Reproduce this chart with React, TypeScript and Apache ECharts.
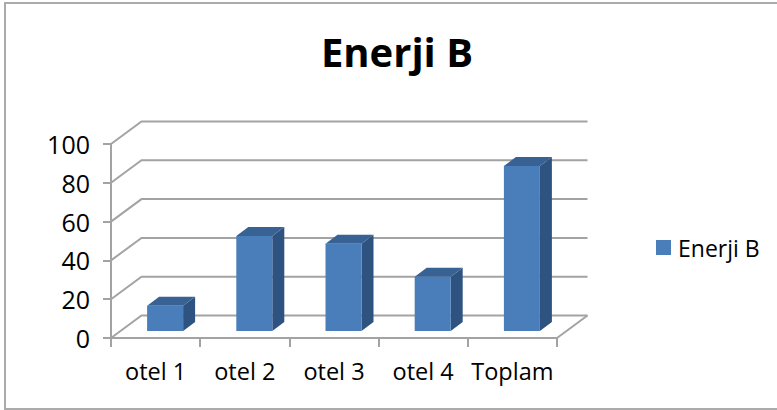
import React, { useEffect, useRef } from "react";
import * as echarts from "echarts";

const categories = ["otel 1", "otel 2", "otel 3", "otel 4", "Toplam"];
const seriesName = "Enerji B";
const values = [13, 49, 45, 28, 85];
const yTicks = [0, 20, 40, 60, 80, 100];

const GREY = "#a3a3a3";
const FONT = "'Open Sans', sans-serif";
const WALL_DX = 30.5;
const WALL_DY = 22.5;

export default function App() {
  const ref = useRef<HTMLDivElement>(null);
  useEffect(() => {
    document.body.style.margin = "0";
    const chart = echarts.init(ref.current!, null, { renderer: "svg" });
    chart.setOption({
      animation: false,
      backgroundColor: "#fff",
      title: {
        text: seriesName,
        left: 392,
        top: 26,
        textAlign: "center",
        textStyle: { fontFamily: FONT, fontSize: 40, fontWeight: "bold", color: "#000" },
      },
      legend: {
        data: [seriesName],
        left: 651,
        top: 231,
        icon: "rect",
        itemWidth: 15,
        itemHeight: 15,
        itemGap: 8,
        textStyle: { fontFamily: FONT, fontSize: 23, color: "#000", padding: [0, 0, 0, 2] },
      },
      grid: { left: 111, top: 144, width: 446, height: 194 },
      xAxis: {
        type: "category",
        data: categories,
        axisLine: { lineStyle: { color: GREY, width: 2 } },
        axisTick: { show: true, length: 9, lineStyle: { color: GREY, width: 2 } },
        axisLabel: { fontFamily: FONT, fontSize: 23.5, color: "#000", margin: 21, interval: 0 },
      },
      yAxis: {
        type: "value",
        min: 0,
        max: 100,
        interval: 20,
        splitLine: { show: false },
        axisLine: { show: true, lineStyle: { color: GREY, width: 2 } },
        axisTick: { show: true, length: 8, lineStyle: { color: GREY, width: 2 } },
        axisLabel: { fontFamily: FONT, fontSize: 25, color: "#000", margin: 21 },
      },
      series: [
        {
          type: "custom",
          name: "walls",
          silent: true,
          z: 1,
          data: yTicks.map((v) => [0, v]),
          renderItem: (params: any, api: any) => {
            const cs = params.coordSys;
            const y = api.coord([0, api.value(1)])[1];
            const style = { stroke: GREY, lineWidth: 2, fill: "none" };
            const children: any[] = [
              {
                type: "polyline",
                shape: {
                  points: [
                    [cs.x, y],
                    [cs.x + WALL_DX, y - WALL_DY],
                    [cs.x + cs.width + WALL_DX, y - WALL_DY],
                  ],
                },
                style,
              },
            ];
            if (api.value(1) === 0) {
              children.push({
                type: "line",
                shape: {
                  x1: cs.x + cs.width,
                  y1: y,
                  x2: cs.x + cs.width + WALL_DX,
                  y2: y - WALL_DY,
                },
                style,
              });
            }
            return { type: "group", children };
          },
        },
        {
          type: "custom",
          name: seriesName,
          z: 3,
          itemStyle: { color: "#4a7ebb" },
          data: values.map((v, i) => [i, v]),
          renderItem: (_: any, api: any) => {
            const i = api.value(0);
            const [cx, top0] = api.coord([i, api.value(1)]);
            const base0 = api.coord([i, 0])[1];
            const w = 36;
            const dx = 12;
            const dy = 9;
            const l = cx + 9.5 - w / 2;
            const r = l + w;
            const top = top0 - 7;
            const base = base0 - 7;
            return {
              type: "group",
              children: [
                {
                  type: "polygon",
                  shape: { points: [[r, top], [r + dx, top - dy], [r + dx, base - dy], [r, base]] },
                  style: { fill: "#2f5380" },
                },
                {
                  type: "polygon",
                  shape: { points: [[l, top], [l + dx, top - dy], [r + dx, top - dy], [r, top]] },
                  style: { fill: "#386293" },
                },
                {
                  type: "rect",
                  shape: { x: l, y: top, width: w, height: base - top },
                  style: { fill: "#4a7ebb" },
                },
              ],
            };
          },
        },
      ],
      graphic: [
        {
          type: "polyline",
          silent: true,
          z: 0,
          shape: { points: [[777, 3], [5, 3], [5, 409], [777, 409]] },
          style: { fill: "none", stroke: "#ababab", lineWidth: 2 },
        },
      ],
    });
    return () => chart.dispose();
  }, []);
  return <div ref={ref} style={{ width: 777, height: 410 }} />;
}
